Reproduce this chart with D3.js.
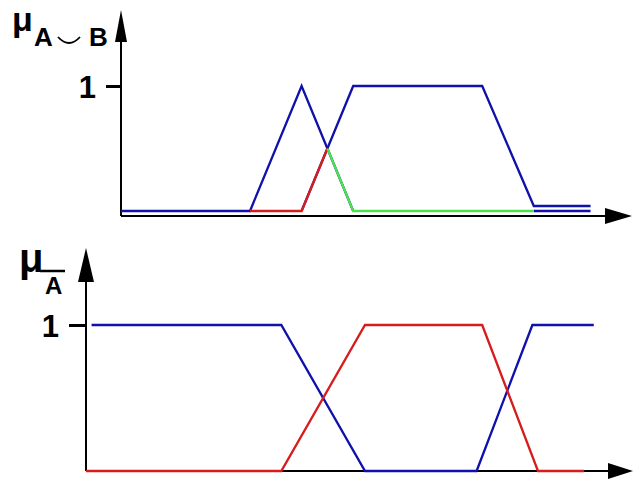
<!DOCTYPE html>
<html>
<head>
<meta charset="utf-8">
<script src="https://cdn.jsdelivr.net/npm/d3@7/dist/d3.min.js"></script>
<style>
  html, body { margin: 0; padding: 0; background: #fff; }
  svg { display: block; }
  text { font-family: "Liberation Sans", Arial, sans-serif; font-weight: bold; fill: #000; }
</style>
</head>
<body>
<svg id="chart" width="633" height="480"></svg>
<script>
// ---- Data: membership functions (x in universe units, y = membership degree) ----

// Upper panel: union of fuzzy sets A (triangle) and B (trapezoid)
const unionBlueA      = [[0, 0], [5, 0], [7, 1], [9, 0]];                    // set A
const unionBlueB      = [[7, 0], [9, 1], [14, 1], [16, 0.04], [18.2, 0.04]]; // set B
const unionBlueTail   = [[16, 0], [18.2, 0]];
const unionRed        = [[5, 0], [7, 0], [8, 0.5]];
const unionGreen      = [[8, 0.5], [9, 0], [16, 0]];

// Lower panel: set A and its complement
const complementBlue  = [[0.2, 1], [7, 1], [10, 0], [14, 0], [16, 1], [18.2, 1]];
const setRed          = [[0, 0], [7, 0], [10, 1], [14.2, 1], [16.2, 0], [17.85, 0]];

const yTicks = [1];
const tickLabels = ["1"];

// ---- Layout ----
const svg = d3.select("#chart");
const BLUE = "#1010aa", RED = "#d61c1c", GREEN = "#4ce24c";

const upperPanel = {
  x: d3.scaleLinear().domain([0, 20]).range([121, 637]),
  y: d3.scaleLinear().domain([0, 1]).range([211, 86]),
  axisY: 216, axisTop: 40, arrowTip: 10, xEnd: 632
};
const lowerPanel = {
  x: d3.scaleLinear().domain([0, 20]).range([86, 644]),
  y: d3.scaleLinear().domain([0, 1]).range([471, 325]),
  axisY: 471, axisTop: 280, arrowTip: 248, xEnd: 633
};

function drawAxes(p, yArrowHalf, xArrowHalf, xArrowLen, tickLen) {
  const x0 = p.x(0);
  const g = svg.append("g");
  // vertical axis line
  g.append("line").attr("x1", x0).attr("x2", x0)
    .attr("y1", p.axisTop).attr("y2", p.axisY)
    .attr("stroke", "#000").attr("stroke-width", 2);
  // horizontal axis line
  g.append("line").attr("x1", x0).attr("x2", p.xEnd - xArrowLen + 2)
    .attr("y1", p.axisY).attr("y2", p.axisY)
    .attr("stroke", "#000").attr("stroke-width", 2);
  // arrow heads
  g.append("path")
    .attr("d", `M${x0},${p.arrowTip} L${x0 + yArrowHalf},${p.axisTop + 2} L${x0 - yArrowHalf},${p.axisTop + 2} Z`)
    .attr("fill", "#000");
  g.append("path")
    .attr("d", `M${p.xEnd},${p.axisY} L${p.xEnd - xArrowLen},${p.axisY - xArrowHalf} L${p.xEnd - xArrowLen},${p.axisY + xArrowHalf} Z`)
    .attr("fill", "#000");
  // tick at membership 1
  const ax = d3.axisLeft(p.y).tickValues(yTicks).tickSize(tickLen).tickPadding(10)
    .tickFormat((d, i) => tickLabels[i]);
  const axG = svg.append("g").attr("transform", `translate(${x0},0)`).call(ax);
  axG.select(".domain").remove();
  axG.selectAll(".tick line").attr("stroke", "#000").attr("stroke-width", 3);
  axG.selectAll(".tick text").attr("font-size", 31).attr("dy", "0.36em")
    .style("font-family", "'Liberation Sans', Arial, sans-serif").style("font-weight", "bold");
}

drawAxes(upperPanel, 6, 8, 27, 15);
drawAxes(lowerPanel, 8, 8, 25, 17);

function drawLine(p, data, color, width) {
  const line = d3.line().x(d => p.x(d[0])).y(d => p.y(d[1]));
  svg.append("path").datum(data).attr("d", line)
    .attr("fill", "none").attr("stroke", color).attr("stroke-width", width)
    .attr("stroke-linejoin", "miter");
}

// Upper panel curves
drawLine(upperPanel, unionBlueA, BLUE, 2.3);
drawLine(upperPanel, unionBlueB, BLUE, 2.3);
drawLine(upperPanel, unionBlueTail, BLUE, 2.3);
drawLine(upperPanel, unionRed, RED, 2.3);
drawLine(upperPanel, unionGreen, GREEN, 2.3);

// Lower panel curves
drawLine(lowerPanel, complementBlue, BLUE, 2.3);
drawLine(lowerPanel, setRed, RED, 2.3);

// ---- Axis titles ----
// upper: mu with subscript A ∪ B
svg.append("text").attr("x", 12).attr("y", 31).attr("font-size", 34).text("μ");
svg.append("text").attr("x", 34).attr("y", 46).attr("font-size", 26).text("A");
svg.append("path").attr("d", "M58,37 Q69,49 80,37").attr("fill", "none")
  .attr("stroke", "#000").attr("stroke-width", 1.8);
svg.append("text").attr("x", 89).attr("y", 46).attr("font-size", 26).text("B");

// lower: mu with subscript A-bar (complement)
svg.append("text").attr("x", 19).attr("y", 272).attr("font-size", 40).text("μ");
svg.append("text").attr("x", 45).attr("y", 294).attr("font-size", 24).text("A");
svg.append("line").attr("x1", 40).attr("x2", 65).attr("y1", 271).attr("y2", 271)
  .attr("stroke", "#000").attr("stroke-width", 2.5);
</script>
</body>
</html>
